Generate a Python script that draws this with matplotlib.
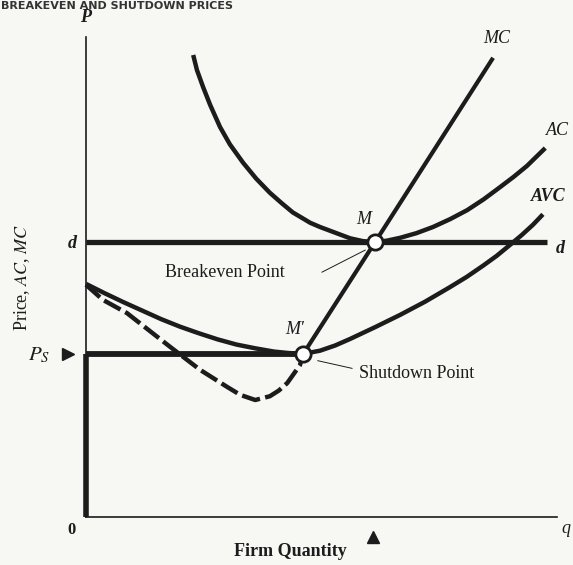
import matplotlib
matplotlib.use("Agg")
import matplotlib.pyplot as plt

plt.rcParams['font.family'] = ['Liberation Serif', 'DejaVu Serif']
plt.rcParams['mathtext.fontset'] = 'stix'

# cost curves (quantity, price)
ac_q = [22.8, 23.6, 24.9, 26.4, 28.5, 30.6, 33.4, 36.2, 39.1, 41.6, 44.0, 47.7, 49.8, 53.0,
        56.2, 58.9, 61.5, 64.0, 66.8, 70.3, 73.8, 77.5, 81.1, 84.6, 88.1, 91.0, 93.8, 97.7]
ac_p = [98.3, 95.1, 91.5, 87.7, 83.0, 79.3, 75.4, 72.0, 69.0, 66.8, 64.8, 62.6, 61.7, 60.5,
        59.3, 58.7, 58.5, 58.8, 59.4, 60.4, 61.7, 63.4, 65.3, 67.6, 70.2, 72.4, 74.7, 78.5]

avc_q = [0.0, 4.0, 8.0, 12.0, 16.0, 20.0, 24.0, 28.0, 32.0, 36.0, 40.0, 43.0, 46.2, 49.8,
         53.0, 56.2, 61.5, 66.8, 72.1, 77.4, 81.0, 84.5, 87.4, 90.2, 92.7, 95.1, 97.2]
avc_p = [49.6, 47.6, 45.7, 43.9, 42.1, 40.5, 39.1, 37.8, 36.7, 35.9, 35.2, 34.9, 34.7, 35.4,
         36.5, 37.9, 40.4, 43.0, 45.8, 48.9, 51.1, 53.5, 55.6, 57.9, 60.0, 62.2, 64.4]

mc_low_q = [0.0, 3.6, 8.7, 13.3, 17.9, 24.3, 30.0, 32.8, 36.0, 39.1, 41.0, 42.8, 45.5, 46.2]
mc_low_p = [49.4, 46.2, 43.4, 39.8, 36.2, 31.3, 27.7, 26.0, 24.9, 25.7, 26.9, 28.5, 32.3, 34.7]
mc_q = [46.2, 61.5, 86.6]
mc_p = [34.7, 58.5, 97.7]

price_d = 58.5
price_s = 34.7
breakeven = (61.5, 58.5)
shutdown = (46.2, 34.7)
q_max = 100.2
p_max = 102.1

ink = '#1c1c1c'
paper = '#f7f7f4'

fig = plt.figure(figsize=(5.73, 5.65), dpi=100, facecolor=paper)
ax = fig.add_axes([0, 0, 1, 1])
ax.set_facecolor(paper)
ax.set_xlim(-18.3, 103.6)
ax.set_ylim(-10.2, 110.0)
ax.axis('off')

# axes
ax.plot([0, 0], [0, p_max], color=ink, lw=1.2)
ax.plot([0, q_max], [0, 0], color=ink, lw=1.2)

# supply below shutdown price, d and Ps lines
ax.plot([0, 0], [0, price_s], color=ink, lw=4, solid_capstyle='butt')
ax.plot([0, 98.1], [price_d, price_d], color=ink, lw=3.8, solid_capstyle='butt')
ax.plot([0, shutdown[0]], [price_s, price_s], color=ink, lw=4.2, solid_capstyle='butt')

# curves
kw = dict(color=ink, lw=3.2, solid_capstyle='butt', solid_joinstyle='round')
ax.plot(ac_q, ac_p, **kw)
ax.plot(avc_q, avc_p, **kw)
ax.plot(mc_low_q, mc_low_p, color=ink, lw=3.2, linestyle=(0, (4.2, 1.2)))
ax.plot(mc_q, mc_p, color=ink, lw=3.0, solid_capstyle='butt')

# breakeven and shutdown points
ax.plot(*breakeven, 'o', ms=11, mfc='white', mec=ink, mew=2, zorder=5)
ax.plot(*shutdown, 'o', ms=11, mfc='white', mec=ink, mew=2, zorder=5)

# small triangles
ax.plot(breakeven[0] - 0.4, -4.3, '^', ms=9, color=ink, clip_on=False)
ax.plot(-3.8, price_s, '>', ms=9, color=ink, clip_on=False)

# labels
it = dict(color=ink, style='italic', fontsize=13)
ax.text(-0.2, 106.2, 'P', ha='center', va='center', weight='bold', **it)
ax.text(87.4, 101.9, 'MC', ha='center', va='center', **it)
ax.text(100.2, 82.3, 'AC', ha='center', va='center', **it)
ax.text(98.3, 68.3, 'AVC', ha='center', va='center', weight='bold', **it)
ax.text(-2.0, 58.3, 'd', ha='right', va='center', weight='bold', **it)
ax.text(100.9, 57.2, 'd', ha='center', va='center', weight='bold', **it)
ax.text(59.0, 63.2, 'M', ha='center', va='center', **it)
ax.text(44.5, 39.8, "M\u2032", ha='center', va='center', **it)
ax.text(-10.0, 34.3, '$P_S$', ha='center', va='center', fontsize=15, color=ink)
ax.text(-3.0, -2.8, '0', ha='center', va='center', fontsize=12, color=ink, weight='bold')
ax.text(102.1, -2.4, 'q', ha='center', va='center', **it)

ax.text(29.6, 52.0, 'Breakeven Point', ha='center', va='center', fontsize=13, color=ink)
ax.plot([50.2, 59.4], [52.1, 56.8], color=ink, lw=0.7)
ax.text(58.0, 30.6, 'Shutdown Point', ha='left', va='center', fontsize=13, color=ink)
ax.annotate('', xy=(48.7, 33.4), xytext=(57.2, 31.5),
            arrowprops=dict(arrowstyle='-', color=ink, lw=0.7))

ax.text(43.4, -7.4, 'Firm Quantity', ha='center', va='center', fontsize=13,
        weight='bold', color=ink)
ax.text(-13.6, 51.1, 'Price, $AC$, $MC$', rotation=90, ha='center', va='center',
        fontsize=13, color=ink)

# chart title along the top edge
fig.text(0.002, 0.999, 'BREAKEVEN AND SHUTDOWN PRICES', ha='left', va='top',
         fontsize=8, weight='bold', color='#333333', family=['DejaVu Sans'])

fig.savefig('out.png', dpi=100, facecolor=paper)
